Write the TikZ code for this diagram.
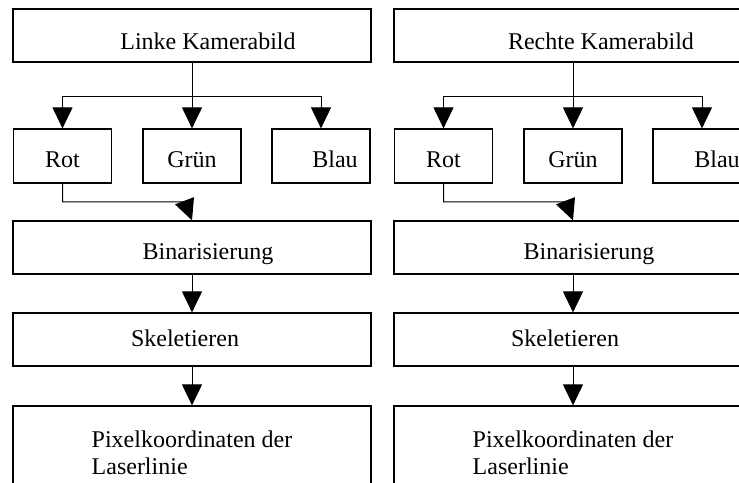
\documentclass[tikz,border=0pt]{standalone}
\usepackage{fontspec}
\setmainfont{Liberation Serif}
\usetikzlibrary{arrows.meta}

\begin{document}
\begin{tikzpicture}[x=.5pt,y=.5pt,
  box/.style={draw,line width=.6pt,inner sep=0pt,minimum height=26.5pt,font=\fontsize{12pt}{13.5pt}\selectfont},
  wide/.style={box,minimum width=179pt,text depth=0pt},
  cam/.style={wide,text height=14.5pt},
  chan/.style={box,minimum width=49pt,minimum height=27pt,text height=12pt,text depth=0pt},
  arr/.style={-{Triangle[length=10.5pt,width=10pt]},line width=.5pt}]
  \useasboundingbox (0,0) rectangle (739,482);
  \clip (0,0) rectangle (739,482);
  % linke Kamera
  \node[cam] (lcam) at (192,446.5){\hspace*{16pt}Linke Kamerabild};
  \node[chan] (lrot) at (62.5,326){Rot};
  \node[chan] (lgruen) at (192,326){Grün};
  \node[chan] (lblau) at (321,326){\hspace*{14pt}Blau};
  \node[wide,text height=12.5pt] (lbin) at (192,234.5){\hspace*{16pt}Binarisierung};
  \node[wide,text height=7.5pt] (lskel) at (192,142.5){Skeletieren\hspace*{7pt}};
  \node[box,minimum width=179pt,minimum height=47pt,align=left] (lpix) at (192,29){Pixelkoordinaten der\\Laserlinie};
  \coordinate (lsplit) at (192,385);
  \coordinate (lbend) at (185,280);
  \draw[arr] (lcam.south) -- (lgruen.north);
  \draw[arr] (lsplit) -| (lrot.north);
  \draw[arr] (lsplit) -| (lblau.north);
  \draw[arr] (lrot.south) |- (lbend) -- (lbin.north);
  \draw[arr] (lbin) -- (lskel);
  \draw[arr] (lskel) -- (lpix);
  % rechte Kamera
  \node[cam] (rcam) at (573,446.5){\hspace*{28pt}Rechte Kamerabild};
  \node[chan] (rrot) at (443.5,326){Rot};
  \node[chan] (rgruen) at (573,326){Grün};
  \node[chan] (rblau) at (702,326){\hspace*{15pt}Blau};
  \node[wide,text height=12.5pt] (rbin) at (573,234.5){\hspace*{16pt}Binarisierung};
  \node[wide,text height=7.5pt] (rskel) at (573,142.5){Skeletieren\hspace*{8pt}};
  \node[box,minimum width=179pt,minimum height=47pt,align=left] (rpix) at (573,29){Pixelkoordinaten der\\Laserlinie\hspace*{6pt}};
  \coordinate (rsplit) at (573,385);
  \coordinate (rbend) at (566,280);
  \draw[arr] (rcam.south) -- (rgruen.north);
  \draw[arr] (rsplit) -| (rrot.north);
  \draw[arr] (rsplit) -| (rblau.north);
  \draw[arr] (rrot.south) |- (rbend) -- (rbin.north);
  \draw[arr] (rbin) -- (rskel);
  \draw[arr] (rskel) -- (rpix);
\end{tikzpicture}
\end{document}
